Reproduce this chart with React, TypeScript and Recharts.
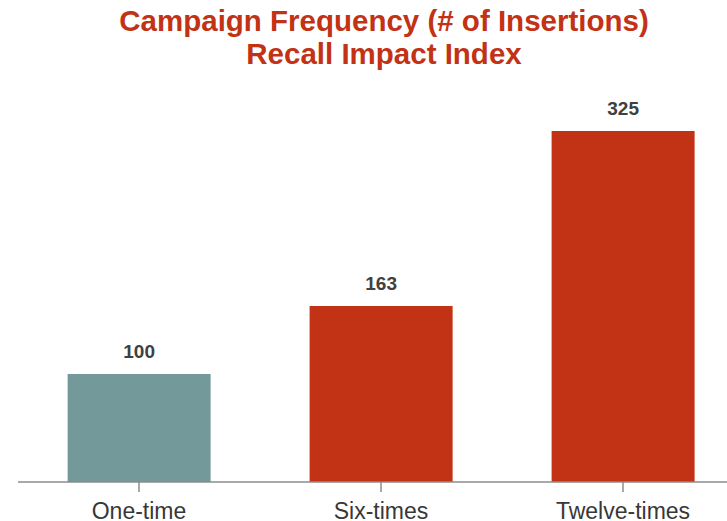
import { BarChart, Bar, XAxis, YAxis, Cell, LabelList } from 'recharts'

const categories = ['One-time', 'Six-times', 'Twelve-times']
const recallIndex = [100, 163, 325]
const barColors = ['#74999A', '#C23214', '#C23214']

const data = categories.map((name, i) => ({ name, value: recallIndex[i] }))

export default function App() {
  return (
    <div style={{ position: 'absolute', top: 0, left: 0, width: 727, height: 521, overflow: 'hidden' }}>
      <div
        style={{
          position: 'absolute',
          top: 4,
          left: 0,
          width: 768,
          textAlign: 'center',
          fontFamily: '"Liberation Sans", Arial, sans-serif',
          fontWeight: 'bold',
          fontSize: 29.5,
          lineHeight: '33px',
          color: '#C23214',
        }}
      >
        Campaign Frequency (# of Insertions)
        <br />
        Recall Impact Index
      </div>
      <BarChart
        width={760}
        height={521}
        data={data}
        margin={{ top: 104, right: 16, bottom: 9, left: 18 }}
        barCategoryGap="20.5%"
        style={{ position: 'absolute', top: 0, left: 0 }}
      >
        <XAxis
          dataKey="name"
          height={30}
          axisLine={{ stroke: '#8C8C8C', strokeWidth: 1.5 }}
          tickLine={{ stroke: '#8C8C8C', strokeWidth: 1.5 }}
          tickSize={10}
          interval={0}
          tick={(props: any) => (
            <text
              x={props.x}
              y={props.y + 25}
              textAnchor="middle"
              fontFamily='"Liberation Sans", Arial, sans-serif'
              fontSize={23}
              fill="#383838"
            >
              {props.payload.value}
            </text>
          )}
        />
        <YAxis hide domain={[0, 350]} />
        <Bar dataKey="value" isAnimationActive={false}>
          {data.map((d, i) => (
            <Cell key={d.name} fill={barColors[i]} />
          ))}
          <LabelList
            dataKey="value"
            position="top"
            offset={16}
            fill="#404040"
            fontWeight="bold"
            fontSize={19}
            fontFamily='"Liberation Sans", Arial, sans-serif'
          />
        </Bar>
      </BarChart>
    </div>
  )
}
